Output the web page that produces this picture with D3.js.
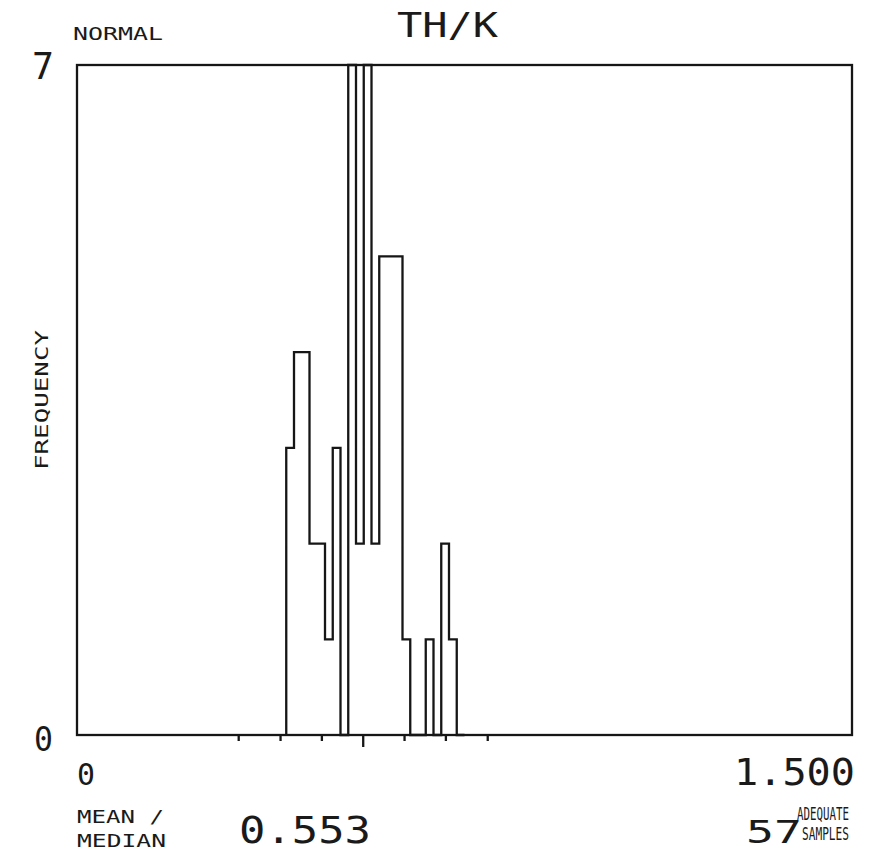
<!DOCTYPE html>
<html>
<head>
<meta charset="utf-8">
<script src="https://cdn.jsdelivr.net/npm/d3@7/dist/d3.min.js"></script>
<style>
  html, body { margin: 0; padding: 0; background: #ffffff; }
  svg { display: block; }
  text { font-family: "DejaVu Sans Mono", "Liberation Mono", monospace; fill: #1a1a1a; }
</style>
</head>
<body>
<script>
// ---- data ----
const title = "TH/K";
const distLabel = "NORMAL";
const yLabel = "FREQUENCY";
const xDomain = [0, 1.5];
const yDomain = [0, 7];
const xTickLabels = ["0", "1.500"];
const yTickLabels = ["0", "7"];
const binStarts = [0.405, 0.420, 0.435, 0.450, 0.465, 0.480, 0.495, 0.510, 0.525, 0.540, 0.555, 0.570,
                   0.585, 0.600, 0.615, 0.630, 0.645, 0.660, 0.675, 0.690, 0.705, 0.720, 0.735];
const binCounts = [3, 4, 4, 2, 2, 1, 3, 0, 7, 2, 7, 2,
                   5, 5, 5, 1, 0, 0, 1, 0, 2, 1, 0];
const binWidth = 0.015;
const sdTicks = [0.312, 0.393, 0.473, 0.553, 0.633, 0.713, 0.794];
const meanValue = "0.553";
const sampleCount = "57";

// ---- layout ----
const W = 881, H = 858;
const L = 77, R = 852, T = 65, B = 735;
const ink = "#161616";

const svg = d3.select("body").append("svg").attr("width", W).attr("height", H);
svg.append("rect").attr("width", W).attr("height", H).attr("fill", "#ffffff");

const x = d3.scaleLinear().domain(xDomain).range([L, R]);
const y = d3.scaleLinear().domain(yDomain).range([B, T]);

// histogram step outline
const pts = [[binStarts[0], 0]];
binStarts.forEach((s, i) => {
  pts.push([s, binCounts[i]]);
  pts.push([s + binWidth, binCounts[i]]);
});
pts.push([binStarts[binStarts.length - 1] + binWidth, 0]);

const line = d3.line().x(d => x(d[0])).y(d => y(d[1]));
svg.append("path").attr("d", line(pts)).attr("fill", "none")
  .attr("stroke", ink).attr("stroke-width", 2.3);

// frame
svg.append("rect").attr("x", x(xDomain[0])).attr("y", y(yDomain[1]))
  .attr("width", x(xDomain[1]) - x(xDomain[0])).attr("height", y(yDomain[0]) - y(yDomain[1]))
  .attr("fill", "none").attr("stroke", ink).attr("stroke-width", 2.3);

// mean / sd ticks below axis
const xAxis = d3.axisBottom(x).tickValues(sdTicks).tickFormat("").tickSizeOuter(0)
  .tickSize(6);
const gx = svg.append("g").attr("transform", `translate(0,${B})`).call(xAxis);
gx.select(".domain").remove();
gx.selectAll(".tick line").attr("stroke", ink).attr("stroke-width", 2.3)
  .attr("y2", (d, i) => i === 3 ? 12 : 6);

// texts
function txt(s, xx, yy, size, len, anchor) {
  const t = svg.append("text").attr("x", xx).attr("y", yy).attr("font-size", size).text(s);
  if (len) t.attr("textLength", len).attr("lengthAdjust", "spacingAndGlyphs");
  if (anchor) t.attr("text-anchor", anchor);
  return t;
}
txt(title, 397, 37, 34, 101);
txt(distLabel, 73, 40, 17, 90);
txt(yTickLabels[1], 32, 79, 37, 22);
txt(yTickLabels[0], 34, 751, 33, 19);
txt(xTickLabels[0], 77, 785, 31, 18);
txt(xTickLabels[1], 734, 785, 37, 121);
txt("MEAN /", 77, 823, 17, 87);
txt("MEDIAN", 77, 847, 17, 89);
txt(meanValue, 239, 843, 38, 132);
txt(sampleCount, 746, 843, 32, 56);
txt("ADEQUATE", 797, 820, 17, 52);
txt("SAMPLES", 802, 840, 17, 47);
svg.append("text").attr("transform", "translate(48,400) rotate(-90)")
  .attr("text-anchor", "middle").attr("font-size", 17)
  .attr("textLength", 140).attr("lengthAdjust", "spacingAndGlyphs").text(yLabel);
</script>
</body>
</html>
